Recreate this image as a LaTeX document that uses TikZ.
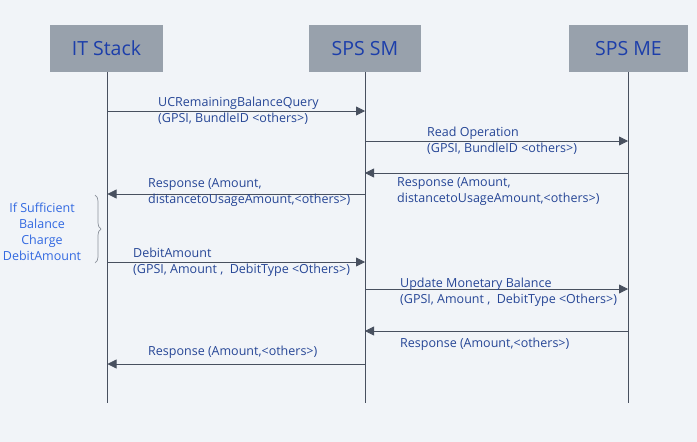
\documentclass[tikz,border=0pt]{standalone}
\usepackage{fontspec}
\setmainfont{Open Sans}
\usetikzlibrary{arrows.meta,positioning,calc,decorations.pathreplacing}
\definecolor{bgSeq}{RGB}{241,244,248}
\definecolor{boxGray}{RGB}{152,161,172}
\definecolor{titleBlue}{RGB}{28,62,170}
\definecolor{labelBlue}{RGB}{38,70,150}
\definecolor{noteBlue}{RGB}{50,105,225}
\definecolor{lineGray}{RGB}{72,80,95}
\definecolor{braceGray}{RGB}{140,146,156}

\begin{document}
\begin{tikzpicture}[
        x=1pt,y=-1pt,
        actor/.style={fill=boxGray,minimum height=47pt,inner sep=0pt,text=titleBlue,font=\fontsize{19.5}{22}\selectfont},
        life/.style={lineGray,line width=0.8pt},
        msg/.style={-{Triangle[length=9pt,width=9pt]},lineGray,line width=0.8pt},
        lbl/.style={anchor=west,align=left,inner sep=0pt,text=labelBlue,font=\fontsize{12.5}{16}\selectfont}
      ]
        \fill[bgSeq] (0,0) rectangle (697,442);
        \useasboundingbox (0,0) rectangle (697,442);
        \node[actor,minimum width=113pt] (it) at (106.5,48.5) {IT Stack};
        \node[actor,minimum width=112pt] (sm) at (365,48.5) {SPS SM};
        \node[actor,minimum width=119pt] (me) at (628.5,48.5) {SPS ME};
        \coordinate (itend) at (107.5,403);
        \coordinate (smend) at (365,403);
        \coordinate (meend) at (628,403);
        \draw[life] (it.south -| itend) -- (itend);
        \draw[life] (sm.south) -- (smend);
        \draw[life] (me.south -| meend) -- (meend);
        \draw[msg] (itend |- 0,111) -- (smend |- 0,111);
        \node[lbl] (q1) at (158,111) {UCRemainingBalanceQuery\\(GPSI, BundleID <others>)};
        \draw[msg] (smend |- 0,141) -- (meend |- 0,141);
        \node[lbl] (q2) at (427,141) {Read Operation\\(GPSI, BundleID <others>)};
        \draw[msg] (meend |- 0,173) -- (smend |- 0,173);
        \node[lbl] (r2) at (397,192) {Response (Amount,\\distancetoUsageAmount,<others>)};
        \draw[msg] (smend |- 0,194) -- (itend |- 0,194);
        \node[lbl] (r1) at (148,192.5) {Response (Amount,\\distancetoUsageAmount,<others>)};
        \draw[msg] (itend |- 0,262) -- (smend |- 0,262);
        \node[lbl] (d1) at (133,262.5) {DebitAmount\\(GPSI, Amount ,\ \ DebitType <Others>)};
        \draw[msg] (smend |- 0,289) -- (meend |- 0,289);
        \node[lbl] (d2) at (400,292) {Update Monetary Balance\\(GPSI, Amount ,\ \ DebitType <Others>)};
        \draw[msg] (meend |- 0,331) -- (smend |- 0,331);
        \node[lbl] (r3) at (400,344) {Response (Amount,<others>)};
        \draw[msg] (smend |- 0,364) -- (itend |- 0,364);
        \node[lbl] (r4) at (148,352) {Response (Amount,<others>)};
        \draw[braceGray,line width=0.7pt,decorate,decoration={brace,amplitude=6pt}] (95,195) -- (95,263);
        \node[align=center,inner sep=0pt,text=noteBlue,font=\fontsize{12.5}{16}\selectfont] (cond) at (42,232) {If Sufficient\\Balance\\Charge\\DebitAmount};
      \end{tikzpicture}
\end{document}
